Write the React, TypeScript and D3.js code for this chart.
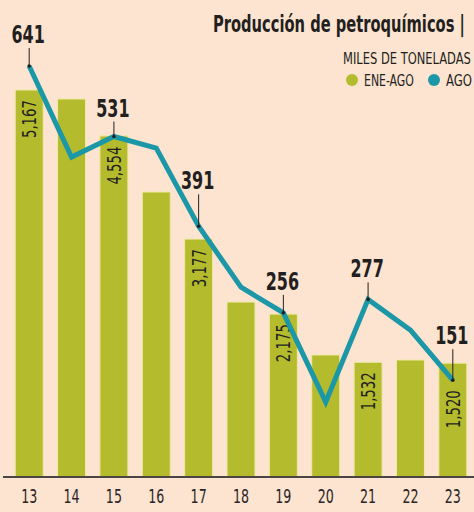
import React, { useEffect, useRef } from "react";
import * as d3 from "d3";

// years on the x axis
const years: string[] = ["13", "14", "15", "16", "17", "18", "19", "20", "21", "22", "23"];
// ENE-AGO, miles de toneladas (bars)
const eneAgo: number[] = [5167, 5047, 4554, 3805, 3177, 2336, 2175, 1629, 1532, 1562, 1520];
// AGO, miles de toneladas (line)
const ago: number[] = [641, 499, 531, 513, 391, 296, 256, 117, 277, 229, 151];
// which values get printed
const barLabelled: string[] = ["13", "15", "17", "19", "21", "23"];
const lineLabelled: string[] = ["13", "15", "17", "19", "21", "23"];

const BG = "#fce4d0";
const GREEN = "#b4bc2e";
const TEAL = "#1c97a8";
const INK = "#231f20";
const FONT = "'Liberation Sans Narrow', 'DejaVu Sans Condensed', sans-serif";

// leader length above the point, per labelled year
const leaderLift: Record<string, number> = { "13": 31, "15": 28, "17": 45, "19": 31, "21": 30, "23": 44 };

const fmt = d3.format(",");

const App: React.FC = () => {
  const svgRef = useRef<SVGSVGElement | null>(null);

  useEffect(() => {
    document.body.style.margin = "0";
    const width = 474;
    const height = 512;
    const baseY = 477;
    const squeeze = 0.74; // the paper uses a very condensed face

    const svg = d3
      .select(svgRef.current)
      .attr("width", width)
      .attr("height", height)
      .attr("viewBox", [0, 0, width, height])
      .style("display", "block")
      .style("font-family", FONT);
    svg.selectAll("*").remove();

    svg.append("rect").attr("width", width).attr("height", height).attr("fill", BG);

    // squeeze a horizontal text so it spans exactly w pixels
    const fitText = (
      txt: string,
      x0: number,
      y0: number,
      w: number,
      size: number,
      weight = "normal",
    ) => {
      const t = svg
        .append("text")
        .attr("font-size", size)
        .attr("font-weight", weight)
        .attr("fill", INK)
        .text(txt);
      const len = (t.node() as SVGTextElement).getComputedTextLength() || w;
      t.attr("transform", `translate(${x0},${y0}) scale(${w / len},1)`);
      return t;
    };

    const x = d3
      .scaleBand()
      .domain(years)
      .range([8, 474])
      .paddingInner(0.34)
      .paddingOuter(0.17);
    const cx = (y: string) => (x(y) as number) + x.bandwidth() / 2;

    const yBar = d3.scaleLinear().domain([0, 5167]).range([baseY, 90]);
    const yLine = d3.scaleLinear().domain([0, 641]).range([baseY, 66]);

    // bars
    svg
      .append("g")
      .selectAll("rect")
      .data(eneAgo)
      .join("rect")
      .attr("x", (_, i) => x(years[i]) as number)
      .attr("y", (d) => yBar(d))
      .attr("width", x.bandwidth())
      .attr("height", (d) => baseY - yBar(d))
      .attr("fill", GREEN)
      .attr("stroke", "#eee9a6")
      .attr("stroke-width", 1);

    // bar value labels (vertical)
    svg
      .append("g")
      .selectAll("text")
      .data(eneAgo.map((v, i) => ({ v, i })).filter((d) => barLabelled.includes(years[d.i])))
      .join("text")
      .attr("transform", (d) => {
        const top = Math.max(yBar(d.v), yLine(ago[d.i]));
        return `translate(${cx(years[d.i]) + 7},${top + 10}) rotate(-90) scale(${squeeze},1)`;
      })
      .attr("text-anchor", "end")
      .attr("font-size", 20)
      .attr("fill", INK)
      .text((d) => fmt(d.v));

    // axis baseline
    svg
      .append("line")
      .attr("x1", 3)
      .attr("x2", 474)
      .attr("y1", baseY)
      .attr("y2", baseY)
      .attr("stroke", "#4a4443")
      .attr("stroke-width", 2);

    const gx = svg
      .append("g")
      .attr("transform", `translate(0,${baseY})`)
      .call(d3.axisBottom(x).tickSize(0).tickPadding(13));
    gx.select(".domain").remove();
    gx.selectAll("text")
      .attr("font-family", FONT)
      .attr("font-size", 19)
      .attr("fill", "#2a2526")
      .attr("transform", `scale(${squeeze},1)`);

    // line
    const line = d3
      .line<number>()
      .x((_, i) => cx(years[i]))
      .y((d) => yLine(d));
    svg
      .append("path")
      .datum(ago)
      .attr("d", line)
      .attr("fill", "none")
      .attr("stroke", TEAL)
      .attr("stroke-width", 5)
      .attr("stroke-linejoin", "miter");

    // leaders + value labels
    const lab = svg
      .append("g")
      .selectAll("g")
      .data(ago.map((v, i) => ({ v, i })).filter((d) => lineLabelled.includes(years[d.i])))
      .join("g");
    lab
      .append("line")
      .attr("x1", (d) => cx(years[d.i]))
      .attr("x2", (d) => cx(years[d.i]))
      .attr("y1", (d) => yLine(d.v))
      .attr("y2", (d) => yLine(d.v) - leaderLift[years[d.i]] + 13)
      .attr("stroke", INK)
      .attr("stroke-width", 1);
    lab
      .append("circle")
      .attr("cx", (d) => cx(years[d.i]))
      .attr("cy", (d) => yLine(d.v))
      .attr("r", 1.8)
      .attr("fill", INK);
    lab
      .append("text")
      .attr(
        "transform",
        (d) =>
          `translate(${cx(years[d.i]) - 1},${yLine(d.v) - leaderLift[years[d.i]] + 8}) scale(${squeeze},1)`,
      )
      .attr("text-anchor", "middle")
      .attr("font-size", 24)
      .attr("font-weight", "bold")
      .attr("fill", INK)
      .text((d) => fmt(d.v));

    // title + unit
    fitText("Producción de petroquímicos |", 213, 32, 252, 23, "bold");
    fitText("MILES DE TONELADAS", 343, 64, 128, 15);

    // legend
    const legend = [
      { label: "ENE-AGO", color: GREEN, x: 352, w: 50 },
      { label: "AGO", color: TEAL, x: 434, w: 26 },
    ];
    legend.forEach((d) => {
      svg
        .append("circle")
        .attr("cx", d.x)
        .attr("cy", 80)
        .attr("r", 6)
        .attr("fill", d.color);
      fitText(d.label, d.x + 12, 86, d.w, 15);
    });
  }, []);

  return <svg ref={svgRef}></svg>;
};

export default App;
